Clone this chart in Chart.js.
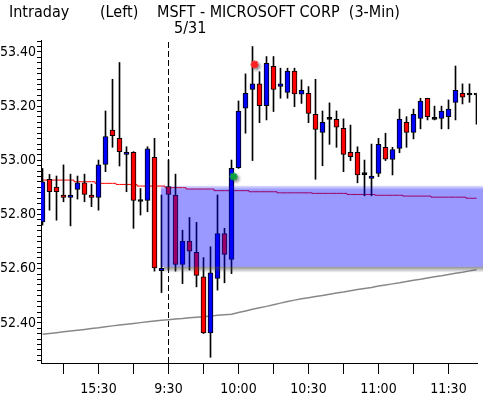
<!DOCTYPE html>
<html>
<head>
<meta charset="utf-8">
<script src="https://cdn.jsdelivr.net/npm/chart.js@4/dist/chart.umd.min.js"></script>
<style>
  html, body { margin: 0; padding: 0; background: #fff; }
  canvas { display: block; }
</style>
</head>
<body>
<canvas id="chart" width="483" height="399"></canvas>
<script>
// 3-min bars, 5/30 afternoon then 5/31 morning
const times = [
  '15:06','15:09','15:12','15:15','15:18','15:21','15:24','15:27','15:30','15:33',
  '15:36','15:39','15:42','15:45','15:48','15:51','15:54','15:57',
  '9:30','9:33','9:36','9:39','9:42','9:45','9:48','9:51','9:54','9:57',
  '10:00','10:03','10:06','10:09','10:12','10:15','10:18','10:21','10:24','10:27',
  '10:30','10:33','10:36','10:39','10:42','10:45','10:48','10:51','10:54','10:57',
  '11:00','11:03','11:06','11:09','11:12','11:15','11:18','11:21','11:24','11:27',
  '11:30','11:33','11:36','11:39','11:42'
];
const opens = [
  52.773, 52.930, 52.901, 52.872, 52.863, 52.893, 52.917, 52.872, 52.863, 52.985,
  53.112, 53.081, 53.022, 53.029, 52.848, 52.852, 53.011, 52.593,
  52.903, 52.872, 52.616, 52.702, 52.660, 52.570, 52.363, 52.564, 52.730, 52.634,
  52.973, 53.192, 53.262, 53.282, 53.202, 53.347, 53.273, 53.251, 53.329, 53.244,
  53.247, 53.170, 53.103, 53.151, 53.151, 53.118, 53.029, 53.029, 52.947, 52.933,
  52.952, 53.048, 53.003, 53.044, 53.140, 53.103, 53.155, 53.229, 53.151, 53.155,
  53.161, 53.214, 53.247, 53.241, 53.241
];
const highs = [
  52.970, 52.948, 52.942, 52.983, 52.949, 52.942, 52.949, 52.912, 53.001, 53.182,
  53.299, 53.361, 53.050, 53.032, 52.896, 53.050, 53.081, 52.872,
  53.001, 52.949, 52.742, 52.789, 52.771, 52.641, 52.681, 52.872, 52.749, 53.001,
  53.219, 53.319, 53.420, 53.327, 53.383, 53.383, 53.340, 53.340, 53.340, 53.297,
  53.272, 53.299, 53.182, 53.212, 53.182, 53.153, 53.130, 53.050, 53.001, 53.060,
  53.081, 53.100, 53.048, 53.189, 53.161, 53.189, 53.229, 53.229, 53.200, 53.200,
  53.223, 53.348, 53.282, 53.282, 53.241
];
const lows = [
  52.761, 52.816, 52.779, 52.847, 52.758, 52.857, 52.847, 52.829, 52.816, 52.958,
  53.048, 52.979, 52.884, 52.749, 52.798, 52.810, 52.591, 52.512,
  52.595, 52.591, 52.545, 52.595, 52.533, 52.361, 52.273, 52.521, 52.548, 52.582,
  52.970, 53.100, 52.999, 53.139, 53.149, 53.180, 53.229, 53.229, 53.198, 53.210,
  53.139, 52.930, 52.980, 53.059, 53.048, 52.958, 52.999, 52.917, 52.869, 52.869,
  52.940, 52.999, 52.946, 53.028, 53.048, 53.079, 53.116, 53.149, 53.149, 53.116,
  53.116, 53.149, 53.208, 53.214, 53.133
];
const closes = [
  52.921, 52.884, 52.884, 52.863, 52.872, 52.917, 52.874, 52.863, 52.983, 53.088,
  53.091, 53.032, 53.029, 52.852, 52.848, 53.042, 52.603, 52.601,
  52.874, 52.616, 52.702, 52.665, 52.575, 52.363, 52.585, 52.730, 52.653, 52.970,
  53.182, 53.247, 53.282, 53.202, 53.358, 53.262, 53.282, 53.329, 53.245, 53.258,
  53.173, 53.114, 53.140, 53.151, 53.122, 53.022, 53.013, 52.946, 52.947, 52.942,
  53.059, 53.004, 53.040, 53.152, 53.103, 53.170, 53.219, 53.161, 53.151, 53.182,
  53.189, 53.258, 53.233, 53.241, 53.241
];
// red average line
const redAvg = [
  52.927, 52.927, 52.927, 52.927, 52.927, 52.921, 52.921, 52.921, 52.915, 52.915,
  52.915, 52.911, 52.911, 52.911, 52.905, 52.905, 52.905, 52.905,
  52.899, 52.899, 52.899, 52.894, 52.894, 52.894, 52.894, 52.888, 52.888, 52.888,
  52.888, 52.888, 52.884, 52.884, 52.884, 52.884, 52.880, 52.880, 52.880, 52.880,
  52.880, 52.878, 52.878, 52.878, 52.878, 52.878, 52.874, 52.874, 52.874, 52.874,
  52.871, 52.871, 52.871, 52.871, 52.868, 52.868, 52.868, 52.868, 52.864, 52.864,
  52.864, 52.864, 52.864, 52.860, 52.860
];
// gray long average line
const grayAvg = [
  52.358, 52.361, 52.364, 52.367, 52.370, 52.373, 52.376, 52.379, 52.382, 52.386,
  52.389, 52.392, 52.395, 52.398, 52.401, 52.404, 52.407, 52.410,
  52.412, 52.414, 52.416, 52.419, 52.421, 52.423, 52.425, 52.428, 52.430, 52.432,
  52.438, 52.444, 52.450, 52.456, 52.461, 52.467, 52.473, 52.479, 52.484, 52.489,
  52.493, 52.497, 52.501, 52.506, 52.510, 52.514, 52.519, 52.523, 52.527, 52.531,
  52.536, 52.540, 52.544, 52.548, 52.553, 52.557, 52.561, 52.566, 52.570, 52.574,
  52.579, 52.583, 52.587, 52.592, 52.596
];
// signal marks: [bar position, price]
const sellMark = [30.3, 53.354];
const buyMark = [27.3, 52.940];
// shaded price zone
const zoneFrom = 16.9;
const zoneTop = 52.906;
const zoneBottom = 52.607;

const yMin = 52.252, yMax = 53.444;
const yStep = 0.02, yLabelStep = 0.2;

const titleParts = ['Intraday', '(Left)', 'MSFT - MICROSOFT CORP  (3-Min)'];
const dateLabel = '5/31';

const FONT = "'DejaVu Sans Condensed', 'DejaVu Sans', sans-serif";

const dayBreak = times.indexOf('9:30');
const minute = t => parseInt(t.split(':')[1], 10);
const xTicks = times.map((t, i) => minute(t) % 15 === 0 ? i : -1).filter(i => i >= 0);

const wicks = times.map((t, i) => ({ x: i, y: [lows[i], highs[i]] }));
const bodies = times.map((t, i) => ({ x: i, y: [opens[i], closes[i]] }));
const bodyColors = times.map((t, i) =>
  closes[i] > opens[i] ? '#0000ff' : closes[i] < opens[i] ? '#ff0000' : '#000000');

const yTickVals = [];
for (let v = Math.ceil(yMin / yStep) * yStep; v <= yMax + 1e-9; v += yStep) {
  yTickVals.push(Math.round(v * 100) / 100);
}

const overlay = {
  id: 'overlay',
  beforeDatasetDraw(chart, args) {
    if (chart.data.datasets[args.index].label === 'marks') {
      const c = chart.ctx;
      c.save();
      c.shadowColor = 'rgba(0,0,0,0.45)';
      c.shadowBlur = 3;
      c.shadowOffsetX = 2;
      c.shadowOffsetY = 2;
    }
  },
  afterDatasetDraw(chart, args) {
    if (chart.data.datasets[args.index].label === 'marks') chart.ctx.restore();
  },
  afterDatasetsDraw(chart) {
    const c = chart.ctx, xs = chart.scales.x, ys = chart.scales.y;
    const x0 = xs.getPixelForValue(zoneFrom);
    const yT = ys.getPixelForValue(zoneTop);
    const yB = ys.getPixelForValue(zoneBottom);
    const x1 = chart.width;
    c.save();
    let g = c.createLinearGradient(0, yB, 0, yB + 6);
    g.addColorStop(0, 'rgba(70,70,70,0.6)');
    g.addColorStop(1, 'rgba(70,70,70,0)');
    c.fillStyle = g;
    c.fillRect(x0 + 3, yB, x1 - x0 - 3, 6);
    g = c.createLinearGradient(0, yT, 0, yT + 4);
    g.addColorStop(0, 'rgba(0,0,255,0.12)');
    g.addColorStop(1, 'rgba(0,0,255,0.4)');
    c.fillStyle = g;
    c.fillRect(x0, yT, x1 - x0, yB - yT);
    c.restore();
  },
  afterDraw(chart) {
    const c = chart.ctx;
    c.save();
    c.fillStyle = '#000';
    c.font = '16px ' + FONT;
    c.textBaseline = 'alphabetic';
    c.fillText(titleParts[0], 9, 17);
    c.fillText(titleParts[1], 100, 17);
    c.fillText(titleParts[2], 157, 17);
    c.fillText(dateLabel, 174, 33);
    c.restore();
  }
};

new Chart(document.getElementById('chart'), {
  type: 'bar',
  data: {
    datasets: [
      {
        type: 'scatter', label: 'marks', order: 1,
        data: [{ x: sellMark[0], y: sellMark[1] }, { x: buyMark[0], y: buyMark[1] }],
        pointStyle: 'star', pointRadius: 4, borderWidth: 2,
        borderColor: ['#ff2020', '#10a040'], backgroundColor: ['#ff2020', '#10a040']
      },
      {
        label: 'body', order: 2, data: bodies, grouped: false,
        barThickness: 5, minBarLength: 2,
        backgroundColor: bodyColors, borderColor: '#000', borderWidth: 1, borderSkipped: false
      },
      {
        label: 'wick', order: 3, data: wicks, grouped: false,
        barThickness: 1, backgroundColor: '#000', borderWidth: 0
      },
      {
        type: 'line', label: 'day', order: 4,
        data: [{ x: dayBreak, y: yMin }, { x: dayBreak, y: yMax }],
        borderColor: '#000', borderWidth: 1, borderDash: [6, 3], pointRadius: 0
      },
      {
        type: 'line', label: 'red avg', order: 5,
        data: redAvg.map((v, i) => ({ x: i, y: v })),
        borderColor: '#ff0000', borderWidth: 1, pointRadius: 0, stepped: 'middle'
      },
      {
        type: 'line', label: 'gray avg', order: 6,
        data: grayAvg.map((v, i) => ({ x: i, y: v })),
        borderColor: '#888888', borderWidth: 1.5, pointRadius: 0
      }
    ]
  },
  options: {
    responsive: false,
    animation: false,
    devicePixelRatio: 1,
    layout: { padding: { top: 40, right: 6, left: 0, bottom: 0 } },
    plugins: { legend: { display: false }, tooltip: { enabled: false } },
    scales: {
      x: {
        type: 'linear',
        offset: false,
        min: -1.5 / 7,
        max: -1.5 / 7 + 436 / 7,
        afterBuildTicks: s => { s.ticks = xTicks.map(v => ({ value: v })); },
        afterFit: s => { s.height = 36; },
        ticks: {
          autoSkip: false, maxRotation: 0, padding: 7, color: '#000',
          font: { family: FONT, size: 14 },
          callback: v => minute(times[v]) % 30 === 0 ? times[v] : ''
        },
        grid: { offset: false, drawOnChartArea: false, tickLength: 11, tickColor: '#000', tickWidth: 1 },
        border: { color: '#000', width: 1 }
      },
      y: {
        min: yMin,
        max: yMax,
        afterBuildTicks: s => { s.ticks = yTickVals.map(v => ({ value: v })); },
        afterFit: s => { s.width = 41; },
        ticks: {
          autoSkip: false, padding: 1, color: '#000',
          font: { family: FONT, size: 14 },
          callback: v => Math.abs(v / yLabelStep - Math.round(v / yLabelStep)) < 1e-6 ? v.toFixed(2) : ''
        },
        grid: { drawOnChartArea: false, tickLength: 4, tickColor: '#000', tickWidth: 1 },
        border: { color: '#000', width: 1 }
      }
    }
  },
  plugins: [overlay]
});
</script>
</body>
</html>
